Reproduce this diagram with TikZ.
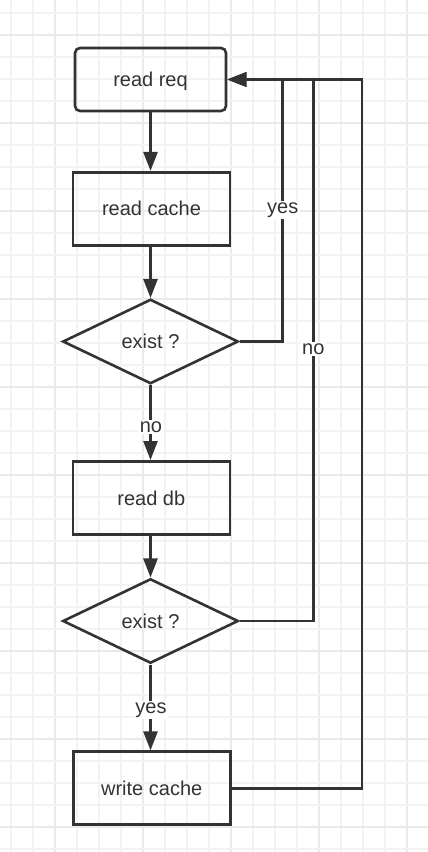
\documentclass[tikz,border=0pt]{standalone}
\usepackage{fontspec}
\setmainfont{Liberation Sans}
\usetikzlibrary{arrows.meta,shapes.geometric}
\definecolor{ink}{HTML}{333333}
\definecolor{gridminor}{HTML}{F3F3F3}
\definecolor{gridmajor}{HTML}{EAEAEA}
\begin{document}
\begin{tikzpicture}[x=1pt,y=-1pt,
  txt/.style={text=ink, font=\fontsize{20}{24}\selectfont},
  box/.style={txt, text height=14.5pt, text depth=0pt, draw=ink, line width=2.6pt, minimum width=157pt, minimum height=73pt, inner sep=0pt},
  roundbox/.style={box, rounded corners=5pt, minimum width=151pt, minimum height=63pt},
  decision/.style={txt, text height=14.5pt, text depth=0pt, draw=ink, line width=2.6pt, diamond, aspect=2, inner sep=0pt, minimum width=175.6pt, minimum height=84.5pt},
  flow/.style={draw=ink, line width=2.6pt, -{Triangle[length=19pt,width=14pt]}},
  lbl/.style={txt, fill=white, inner sep=1.5pt}]
\useasboundingbox (0,0) rectangle (428,852);
\fill[white] (0,0) rectangle (428,852);
% grid
\foreach \i in {0,...,19}{
  \pgfmathtruncatemacro{\m}{mod(\i,4)}
  \ifnum\m=2 \draw[gridmajor, line width=2pt] ({11+22*\i},0) -- ({11+22*\i},852);
  \else \draw[gridminor, line width=1.6pt] ({11+22*\i},0) -- ({11+22*\i},852); \fi
}
\foreach \i in {0,...,38}{
  \pgfmathtruncatemacro{\m}{mod(\i,4)}
  \ifnum\m=1 \draw[gridmajor, line width=2pt] (0,{12.7+22*\i}) -- (428,{12.7+22*\i});
  \else \draw[gridminor, line width=1.6pt] (0,{12.7+22*\i}) -- (428,{12.7+22*\i}); \fi
}
% nodes
\node[roundbox] (req) at (150.5,79.5) {read req};
\node[box] (cache) at (151.5,208.7) {read cache};
\node[decision] (d1) at (150.5,341.5) {exist ?};
\node[box] (db) at (151.3,497.8) {read db};
\node[decision] (d2) at (150.5,621) {exist ?};
\node[box] (write) at (151.7,788.2) {write cache};
% corner coordinates
\coordinate (c1) at (282.7,79.5);
\coordinate (c2) at (313.3,79.5);
\coordinate (c3) at (362,79.5);
% connectors
\draw[flow] (req.south) -- (req.south |- cache.north);
\draw[flow] (cache.south) -- (cache.south -| d1.north) -- (d1.north);
\draw[flow] (d1.south) -- (d1.south |- db.north);
\draw[flow] (db.south) -- (db.south -| d2.north) -- (d2.north);
\draw[flow] (d2.south) -- (d2.south |- write.north);
\draw[flow] (d1.east) -| (c1) -- (req.east);
\draw[flow] (d2.east) -| (c2) -- (req.east);
\draw[flow] (write.east) -| (c3) -- (req.east);
% labels
\node[lbl] (l1) at (282.7,210) {yes};
\node[lbl] (l2) at (313.3,349) {no};
\node[lbl] (l3) at (151,427) {no};
\node[lbl] (l4) at (151,710) {yes};
\end{tikzpicture}
\end{document}
